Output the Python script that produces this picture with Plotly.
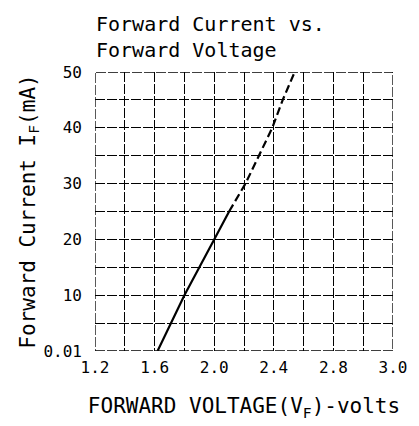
import plotly.graph_objects as go

# Data
solid_v = [1.62, 1.80, 2.00, 2.10]
solid_i = [0.01, 10, 20, 25]
dash_v = [2.10, 2.21, 2.39, 2.46, 2.54]
dash_i = [25, 30, 40, 45, 50]

x_tickvals = [1.2, 1.6, 2.0, 2.4, 2.8, 3.2]
x_ticktext = ["1.2", "1.6", "2.0", "2.4", "2.8", "3.0"]
y_tickvals = [0, 10, 20, 30, 40, 50]
y_ticktext = ["0.01", "10", "20", "30", "40", "50"]

FONT = "DejaVu Sans Mono"
grid_dash = "10px,2px"
GRID = dict(gridcolor="black", gridwidth=1.3, griddash=grid_dash)

fig = go.Figure()
fig.add_trace(go.Scatter(x=solid_v, y=solid_i, mode="lines",
                         line=dict(color="black", width=2.2), showlegend=False))
fig.add_trace(go.Scatter(x=dash_v, y=dash_i, mode="lines",
                         line=dict(color="black", width=2.2, dash="8px,4px"), showlegend=False))

fig.add_shape(type="rect", xref="x", yref="y", x0=1.2, x1=3.2, y0=0, y1=50,
              line=dict(color="black", width=1.3, dash=grid_dash), layer="above")

fig.add_annotation(text="Forward Current vs.<br>Forward Voltage",
                   xref="paper", yref="paper", x=-0.005, xanchor="left",
                   y=1.0 + 64/287, yanchor="top", showarrow=False, align="left",
                   font=dict(family=FONT, size=20, color="black"))

fig.update_layout(
    width=411, height=418,
    margin=dict(l=87, r=26, t=64, b=67),
    paper_bgcolor="white", plot_bgcolor="white",
    font=dict(family=FONT, color="black", size=15),
    xaxis=dict(range=[1.2, 3.2], tickvals=x_tickvals, ticktext=x_ticktext,
               showgrid=True, **GRID, zeroline=False, showline=False, ticks="",
               ticklabelstandoff=5,
               tickfont=dict(family=FONT, size=16, color="black"),
               minor=dict(tickvals=[1.4, 1.8, 2.2, 2.6, 3.0], showgrid=True, **GRID),
               title=dict(text="FORWARD VOLTAGE(V<sub>F</sub>)-volts",
                          font=dict(family=FONT, size=21, color="black"), standoff=22)),
    yaxis=dict(range=[0, 50], tickvals=y_tickvals, ticktext=y_ticktext,
               showgrid=True, **GRID, zeroline=False, showline=False, ticks="",
               ticklabelstandoff=12,
               tickfont=dict(family=FONT, size=16, color="black"),
               minor=dict(tickvals=[5, 15, 25, 35, 45], showgrid=True, **GRID),
               title=dict(text="Forward Current I<sub>F</sub>(mA)",
                          font=dict(family=FONT, size=21, color="black"), standoff=2)),
)

fig.write_html("out.html")
